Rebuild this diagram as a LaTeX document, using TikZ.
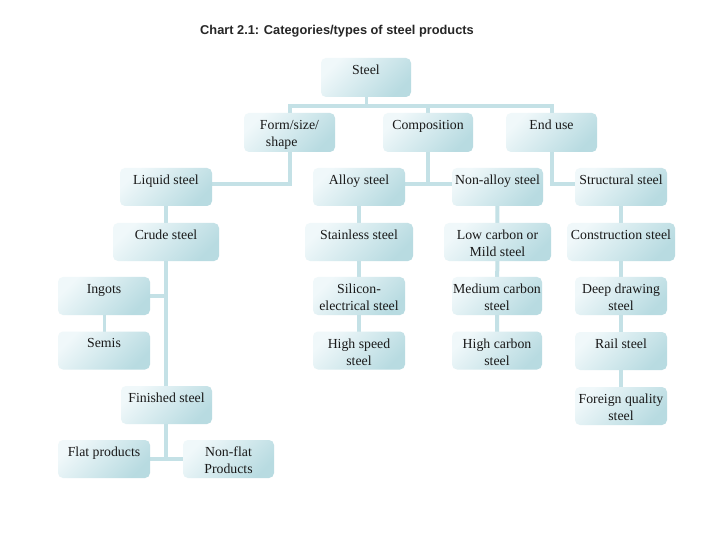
\documentclass[tikz,border=0pt]{standalone}
\usepackage{fontspec}
\setmainfont{Liberation Serif}
\newfontfamily\titlefont{Liberation Sans}
\usetikzlibrary{backgrounds,shadings}
\definecolor{boxlight}{HTML}{F0F8FA}
\definecolor{boxdark}{HTML}{B8DBE1}
\definecolor{connc}{HTML}{C4E1E6}
\tikzset{
  stbox/.style={rounded corners=5bp, top color=boxlight, bottom color=boxdark,
    shading angle=45, minimum height=38bp, inner sep=0pt, draw=none},
  lbl/.style={anchor=north, inner sep=0pt, yshift=-7bp,
    font=\fontsize{13.8bp}{17bp}\selectfont, align=center, text=black!90},
  conn/.style={draw=connc, line width=4bp},
  thinconn/.style={draw=connc, line width=3bp}
}
\begin{document}
\begin{tikzpicture}[x=1bp,y=-1bp]
\useasboundingbox (0,0) rectangle (720,540);

\node[font=\titlefont\bfseries\fontsize{12.8bp}{15bp}\selectfont, text=black!85,
  anchor=base west, inner sep=0pt] (title) at (200,35) {Chart 2.1: Categories/types of steel products};

% level 1-2
\node[stbox, minimum width=90bp, minimum height=39bp] (steel) at (366,77.5) {};
\node[lbl] (steelt) at (steel.north) {Steel};
\node[stbox, minimum width=91bp, minimum height=39bp] (form) at (289.5,132.5) {};
\node[lbl, align=left] (formt) at (form.north) {Form/size/\\\hspace*{6bp}shape};
\node[stbox, minimum width=90bp, minimum height=39bp] (comp) at (428,132.5) {};
\node[lbl] (compt) at (comp.north) {Composition};
\node[stbox, minimum width=91bp, minimum height=39bp] (enduse) at (551.5,132.5) {};
\node[lbl] (enduset) at (enduse.north) {End use};

% level 3
\node[stbox, minimum width=92bp] (liquid) at (166,187) {};
\node[lbl] (liquidt) at (liquid.north) {Liquid steel};
\node[stbox, minimum width=92bp] (alloy) at (359,187) {};
\node[lbl] (alloyt) at (alloy.north) {Alloy steel};
\node[stbox, minimum width=91bp] (nonalloy) at (497.5,187) {};
\node[lbl] (nonalloyt) at (nonalloy.north) {Non-alloy steel};
\node[stbox, minimum width=92bp] (struct) at (621,187) {};
\node[lbl] (structt) at (struct.north) {Structural steel};

% level 4
\node[stbox, minimum width=106bp] (crude) at (166,242) {};
\node[lbl] (crudet) at (crude.north) {Crude steel};
\node[stbox, minimum width=108bp] (stainless) at (359,242) {};
\node[lbl] (stainlesst) at (stainless.north) {Stainless steel};
\node[stbox, minimum width=107bp] (lowc) at (497.5,242) {};
\node[lbl] (lowct) at (lowc.north) {Low carbon or\\Mild steel};
\node[stbox, minimum width=108bp] (constr) at (621,242) {};
\node[lbl] (constrt) at (constr.north) {Construction steel};

% level 5
\node[stbox, minimum width=92bp] (ingots) at (104,296) {};
\node[lbl] (ingotst) at (ingots.north) {Ingots};
\node[stbox, minimum width=92bp] (silicon) at (359,296) {};
\node[lbl] (silicont) at (silicon.north) {Silicon-\\electrical steel};
\node[stbox, minimum width=90bp] (medc) at (497,296) {};
\node[lbl] (medct) at (medc.north) {Medium carbon\\steel};
\node[stbox, minimum width=92bp] (deep) at (621,296) {};
\node[lbl] (deept) at (deep.north) {Deep drawing\\steel};

% level 6
\node[stbox, minimum width=92bp] (semis) at (104,350.5) {};
\node[lbl] (semist) at (semis.north) {Semis};
\node[stbox, minimum width=92bp] (highspeed) at (359,350.5) {};
\node[lbl] (highspeedt) at (highspeed.north) {High speed\\steel};
\node[stbox, minimum width=90bp] (highc) at (497,350.5) {};
\node[lbl] (highct) at (highc.north) {High carbon\\steel};
\node[stbox, minimum width=92bp] (rail) at (621,351) {};
\node[lbl] (railt) at (rail.north) {Rail steel};

% level 7
\node[stbox, minimum width=91bp] (finished) at (166.5,405) {};
\node[lbl] (finishedt) at (finished.north) {Finished steel};
\node[stbox, minimum width=92bp] (foreign) at (621,406) {};
\node[lbl] (foreignt) at (foreign.north) {Foreign quality\\steel};

% level 8
\node[stbox, minimum width=92bp] (flat) at (104,459) {};
\node[lbl] (flatt) at (flat.north) {Flat products};
\node[stbox, minimum width=91bp] (nonflat) at (228.5,459) {};
\node[lbl] (nonflatt) at (nonflat.north) {Non-flat\\Products};

\begin{scope}[on background layer]
\fill[white] (0,0) rectangle (720,540);
\coordinate (bar) at (366,106);
\draw[thinconn] (steel.center) -- (bar);
\draw[conn] (form.center) |- (bar) -| (enduse.center);
\draw[conn] (comp.center) -- (comp.center |- bar);
\coordinate (lv3) at (366,184);
\draw[conn] (form.center) |- (lv3 -| liquid.center);
\draw[conn] (comp.center) |- (lv3 -| alloy.center);
\draw[conn] (alloy.center) |- (lv3 -| nonalloy.center);
\draw[conn] (enduse.center) |- (lv3 -| struct.center);
\draw[conn] (alloy.center) -- (highspeed.center);
\draw[conn] (nonalloy.center) -- (highc.center);
\draw[conn] (struct.center) -- (foreign.center);
\draw[conn] (liquid.center) -- (liquid.center |- flat.center);
\draw[conn] (flat.center) -- (nonflat.center);
\draw[conn] (ingots.center) -- (ingots.center -| liquid.center);
\draw[thinconn] (ingots.center) -- (semis.center);
\end{scope}
\end{tikzpicture}
\end{document}
